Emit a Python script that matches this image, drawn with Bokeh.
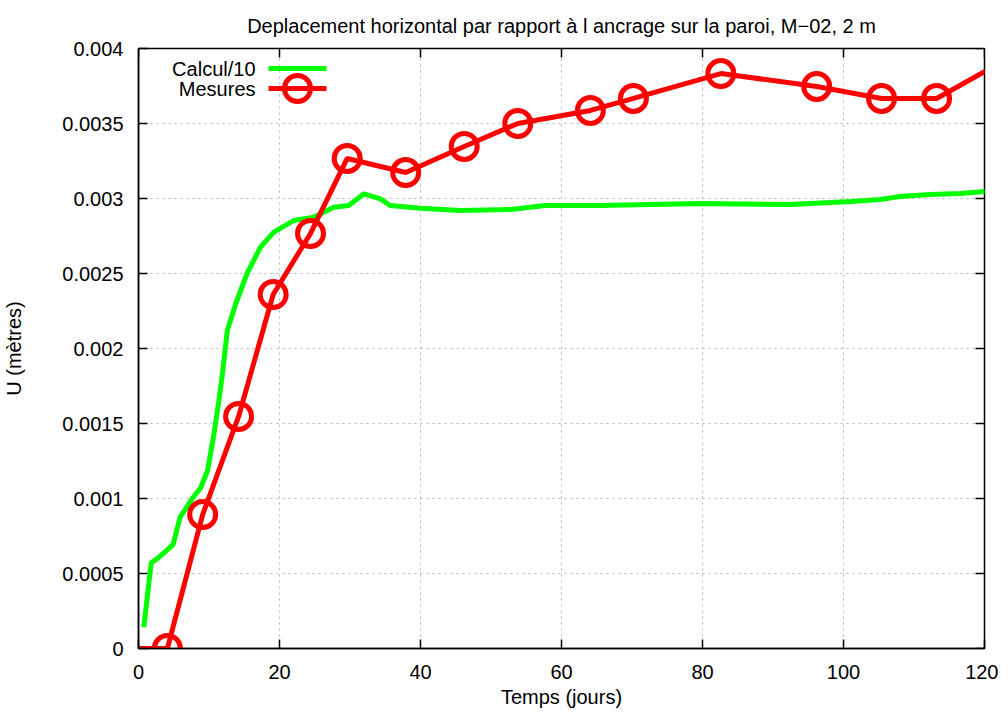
from bokeh.plotting import figure
from bokeh.models import FixedTicker, Range1d, Label
from bokeh.embed import file_html
from bokeh.resources import INLINE

title = "Deplacement horizontal par rapport à l ancrage sur la paroi, M\u221202, 2 m"
x_label = "Temps (jours)"
y_label = "U (mètres)"

# Calcul/10 (green)
calc_t = [0.75, 1.8, 2.65, 4.9, 5.9, 7.6, 8.8, 9.8, 10.7, 11.4, 11.9, 12.6, 13.8, 15.4,
          17.3, 19.2, 22.0, 24.9, 27.7, 29.8, 32.0, 34.3, 35.7, 40.0, 45.7, 52.8, 57.7,
          65.5, 79.7, 92.5, 101.0, 105.2, 108.0, 112.3, 116.6, 120.1]
calc_u = [0.000142, 0.000571, 0.000598, 0.000693, 0.000875, 0.000998, 0.00107, 0.001187,
          0.00143, 0.00165, 0.00183, 0.00212, 0.0023, 0.0025, 0.002676, 0.002776, 0.002853,
          0.002876, 0.002942, 0.002953, 0.003031, 0.002998, 0.002953, 0.002935, 0.00292,
          0.002927, 0.002953, 0.002953, 0.002967, 0.00296, 0.00298, 0.002993, 0.003013,
          0.003027, 0.003033, 0.003047]

# Mesures (red)
mes_t = [-5.0, 4.1, 9.1, 14.2, 19.1, 24.4, 29.6, 37.9, 46.2, 53.8, 64.1, 70.2, 82.6,
         96.2, 105.4, 113.2, 124.0]
mes_u = [0.0, 0.0, 0.000893, 0.001547, 0.00236, 0.002767, 0.003267, 0.003173, 0.003347,
         0.0035, 0.003587, 0.003667, 0.003833, 0.003747, 0.003667, 0.003667, 0.00395]

x_ticks = [0, 20, 40, 60, 80, 100, 120]
y_ticks = [0, 0.0005, 0.001, 0.0015, 0.002, 0.0025, 0.003, 0.0035, 0.004]
y_tick_labels = ["0", "0.0005", "0.001", "0.0015", "0.002", "0.0025", "0.003", "0.0035", "0.004"]
legend_labels = ["Calcul/10", "Mesures"]

FONT = "Liberation Sans"
FS = "20px"
X0, X1, Y0, Y1 = 0, 120, 0, 0.004
FW, FH = 846, 600

p = figure(width=998, height=714, output_backend="svg", toolbar_location=None,
           x_range=Range1d(X0, X1), y_range=Range1d(Y0, Y1),
           min_border_left=138, min_border_right=14, min_border_top=48, min_border_bottom=66,
           title=title)
p.title.align = "center"
p.title.standoff = 24
p.title.text_font = FONT
p.title.text_font_size = FS
p.title.text_font_style = "normal"
p.title.text_color = "black"

p.outline_line_color = "black"
p.outline_line_width = 1.5
p.outline_line_alpha = 1

xa = p.below[0]
ya = p.left[0]
xa.ticker = FixedTicker(ticks=x_ticks)
xa.axis_label = x_label
ya.ticker = FixedTicker(ticks=y_ticks)
ya.axis_label = y_label
ya.major_label_overrides = {v: s for v, s in zip(y_ticks, y_tick_labels)}

for ax in [xa, ya]:
    ax.major_tick_in = 9
    ax.major_tick_out = 0
    ax.minor_tick_in = 0
    ax.minor_tick_out = 0
    ax.axis_line_color = "black"
    ax.axis_line_width = 1.5
    ax.major_tick_line_color = "black"
    ax.major_tick_line_width = 1.5
    ax.major_label_text_font = FONT
    ax.major_label_text_font_size = FS
    ax.major_label_text_color = "black"
    ax.axis_label_text_font = FONT
    ax.axis_label_text_font_style = "normal"
    ax.axis_label_text_font_size = FS
    ax.axis_label_text_color = "black"
xa.major_label_standoff = 16
xa.axis_label_standoff = 4
ya.major_label_standoff = 15
ya.axis_label_standoff = 34

p.xgrid.ticker = FixedTicker(ticks=x_ticks)
p.ygrid.ticker = FixedTicker(ticks=y_ticks)
for g in [p.xgrid, p.ygrid]:
    g.grid_line_color = "#b4b4b4"
    g.grid_line_dash = "2 4"
    g.grid_line_width = 1

# mirrored inward ticks on top and right edges (9 px long)
tx = 9 * (X1 - X0) / FW
ty = 9 * (Y1 - Y0) / FH
p.segment(x0=x_ticks, y0=[Y1] * len(x_ticks), x1=x_ticks, y1=[Y1 - ty] * len(x_ticks),
          line_color="black", line_width=1.5)
p.segment(x0=[X1] * len(y_ticks), y0=y_ticks, x1=[X1 - tx] * len(y_ticks), y1=y_ticks,
          line_color="black", line_width=1.5)

p.line(calc_t, calc_u, line_color="#00ff00", line_width=5)
p.line(mes_t, mes_u, line_color="#ff0000", line_width=5)
p.scatter(mes_t, mes_u, marker="circle", size=26, fill_color=None,
          line_color="#ff0000", line_width=5)

# key (gnuplot style: text on the left, sample on the right)
def dx(px):
    return X0 + px * (X1 - X0) / FW

def dy(px):
    return Y1 - px * (Y1 - Y0) / FH

rows = [20, 40]
colors = ["#00ff00", "#ff0000"]
for i, (lab, col) in enumerate(zip(legend_labels, colors)):
    yy = dy(rows[i])
    p.add_layout(Label(x=dx(117), y=yy, text=lab, text_align="right", text_baseline="middle",
                       text_font=FONT, text_font_size=FS, text_color="black"))
    p.line([dx(130), dx(188)], [yy, yy], line_color=col, line_width=5)
p.scatter([dx(159)], [dy(rows[1])], marker="circle", size=26, fill_color=None,
          line_color="#ff0000", line_width=5)

open("out.html", "w").write(file_html(p, INLINE))
